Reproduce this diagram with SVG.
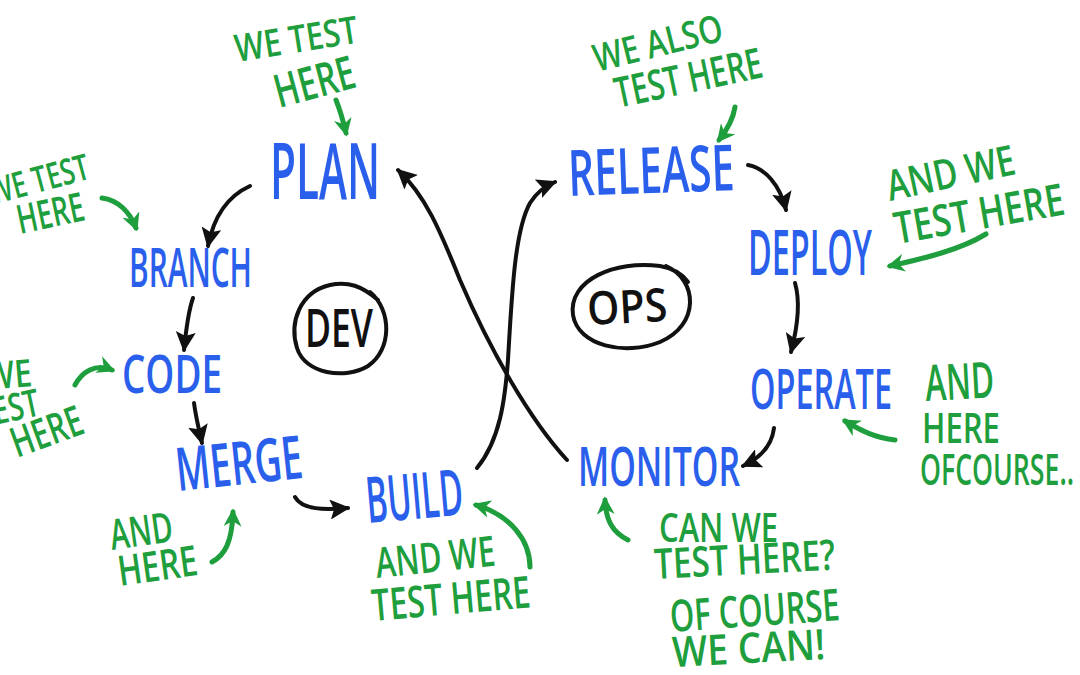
<svg xmlns="http://www.w3.org/2000/svg" width="1080" height="675" viewBox="0 0 1080 675">
<style>
.b{font-family:"Open Sans","Liberation Sans",sans-serif;fill:#2a5fec;font-weight:600}
.g{font-family:"Open Sans","Liberation Sans",sans-serif;fill:#1e9e3c;font-weight:600}
.k{font-family:"Open Sans","Liberation Sans",sans-serif;fill:#111;font-weight:600}
.c{fill:none;stroke:#111;stroke-width:4;stroke-linecap:round}
.ga{fill:none;stroke:#1e9e3c;stroke-width:5;stroke-linecap:round}
</style>
<defs>
<marker id="ab" viewBox="0 0 10 10" refX="9" refY="5" markerWidth="20" markerHeight="20" markerUnits="userSpaceOnUse" orient="auto"><path d="M0,0 L10,5 L0,10 L2,5 z" fill="#111"/></marker>
<marker id="ag" viewBox="0 0 10 10" refX="8" refY="5" markerWidth="18" markerHeight="18" markerUnits="userSpaceOnUse" orient="auto"><path d="M0,0 L10,5 L0,10 L3,5 z" fill="#1e9e3c"/></marker>
</defs>
<rect width="1080" height="675" fill="#fff"/>

<g id="connectors">
<path class="c" d="M250,186 C228,196 214,215 208,246" marker-end="url(#ab)"/>
<path class="c" d="M193,298 C188,312 186,330 184,350" marker-end="url(#ab)"/>
<path class="c" d="M194,403 C196,418 199,430 202,443" marker-end="url(#ab)"/>
<path class="c" d="M295,497 C302,510 325,510 348,508" marker-end="url(#ab)"/>
<path class="c" d="M477,468 C500,440 505,400 508,360 C512,290 515,230 530,203 C537,192 545,186 555,182" marker-end="url(#ab)"/>
<path class="c" d="M567,460 C530,420 490,350 460,280 C440,230 425,195 398,170" marker-end="url(#ab)"/>
<path class="c" d="M748,165 C765,168 780,185 786,210" marker-end="url(#ab)"/>
<path class="c" d="M795,283 C800,300 798,325 791,352" marker-end="url(#ab)"/>
<path class="c" d="M774,428 C772,445 760,458 743,466" marker-end="url(#ab)"/>
</g>

<g id="plan"><text class="b" x="270" y="199" font-size="78" textLength="110" lengthAdjust="spacingAndGlyphs">PLAN</text></g>
<g id="branch"><text class="b" x="129" y="287" font-size="54" textLength="123" lengthAdjust="spacingAndGlyphs">BRANCH</text></g>
<g id="code"><text class="b" x="122" y="393" font-size="52" textLength="100" lengthAdjust="spacingAndGlyphs">CODE</text></g>
<g id="merge"><text class="b" x="178" y="491" font-size="60" textLength="127" lengthAdjust="spacingAndGlyphs" transform="rotate(-6 178 491)">MERGE</text></g>
<g id="build"><text class="b" x="368" y="523" font-size="64" textLength="97" lengthAdjust="spacingAndGlyphs" transform="rotate(-5 368 523)">BUILD</text></g>
<g id="release"><text class="b" x="569" y="196" font-size="64" textLength="166" lengthAdjust="spacingAndGlyphs" transform="rotate(-2 569 196)">RELEASE</text></g>
<g id="deploy"><text class="b" x="748" y="275" font-size="64" textLength="124" lengthAdjust="spacingAndGlyphs">DEPLOY</text></g>
<g id="operate"><text class="b" x="750" y="409" font-size="56" textLength="142" lengthAdjust="spacingAndGlyphs">OPERATE</text></g>
<g id="monitor"><text class="b" x="578" y="486" font-size="54" textLength="162" lengthAdjust="spacingAndGlyphs">MONITOR</text></g>

<g id="dev">
<path d="M370,292 C392,310 392,350 368,366 C345,380 305,374 297,348 C289,322 300,292 330,285 C348,281 362,286 378,300" fill="none" stroke="#111" stroke-width="4" stroke-linecap="round"/>
<text class="k" x="339" y="347" font-size="52" text-anchor="middle" textLength="68" lengthAdjust="spacingAndGlyphs">DEV</text>
</g>
<g id="ops">
<path d="M666,266 C698,280 700,325 660,342 C625,356 578,346 573,315 C568,280 615,260 660,266 C672,268 682,274 688,282" fill="none" stroke="#111" stroke-width="4" stroke-linecap="round"/>
<text class="k" x="628" y="323" font-size="46" text-anchor="middle" textLength="80" lengthAdjust="spacingAndGlyphs" transform="rotate(-3 628 323)">OPS</text>
</g>

<g id="note-plan">
<text class="g" x="237" y="62" font-size="38" textLength="124" lengthAdjust="spacingAndGlyphs" transform="rotate(-9 237 62)">WE TEST</text>
<text class="g" x="279" y="108" font-size="46" textLength="82" lengthAdjust="spacingAndGlyphs" transform="rotate(-15 279 108)">HERE</text>
<path class="ga" d="M336,100 C340,110 343,120 346,133" marker-end="url(#ag)"/>
</g>
<g id="note-branch">
<text class="g" x="-8" y="205" font-size="36" textLength="103" lengthAdjust="spacingAndGlyphs" transform="rotate(-15 -8 205)">WE TEST</text>
<text class="g" x="20" y="234" font-size="40" textLength="68" lengthAdjust="spacingAndGlyphs" transform="rotate(-12 20 234)">HERE</text>
<path class="ga" d="M102,198 C118,200 130,212 136,228" marker-end="url(#ag)"/>
</g>
<g id="note-code">
<text class="g" x="-14" y="390" font-size="38" textLength="47" lengthAdjust="spacingAndGlyphs" transform="rotate(-5 -14 390)">WE</text>
<text class="g" x="-20" y="428" font-size="38" textLength="63" lengthAdjust="spacingAndGlyphs" transform="rotate(-12 -20 428)">TEST</text>
<text class="g" x="17" y="458" font-size="42" textLength="74" lengthAdjust="spacingAndGlyphs" transform="rotate(-20 17 458)">HERE</text>
<path class="ga" d="M75,385 C82,372 95,363 112,370" marker-end="url(#ag)"/>
</g>
<g id="note-merge">
<text class="g" x="112" y="550" font-size="42" textLength="63" lengthAdjust="spacingAndGlyphs" transform="rotate(-8 112 550)">AND</text>
<text class="g" x="120" y="586" font-size="42" textLength="80" lengthAdjust="spacingAndGlyphs" transform="rotate(-8 120 586)">HERE</text>
<path class="ga" d="M212,562 C225,555 232,542 233,512" marker-end="url(#ag)"/>
</g>
<g id="note-build">
<text class="g" x="377" y="578" font-size="42" textLength="120" lengthAdjust="spacingAndGlyphs" transform="rotate(-6 377 578)">AND WE</text>
<text class="g" x="373" y="621" font-size="44" textLength="159" lengthAdjust="spacingAndGlyphs" transform="rotate(-5 373 621)">TEST HERE</text>
<path class="ga" d="M530,567 C530,540 510,515 476,505" marker-end="url(#ag)"/>
</g>
<g id="note-release">
<text class="g" x="597" y="72" font-size="38" textLength="132" lengthAdjust="spacingAndGlyphs" transform="rotate(-14 597 72)">WE ALSO</text>
<text class="g" x="618" y="108" font-size="42" textLength="150" lengthAdjust="spacingAndGlyphs" transform="rotate(-12 618 108)">TEST HERE</text>
<path class="ga" d="M735,107 C733,120 727,130 719,140" marker-end="url(#ag)"/>
</g>
<g id="note-deploy">
<text class="g" x="890" y="201" font-size="42" textLength="130" lengthAdjust="spacingAndGlyphs" transform="rotate(-12 890 201)">AND WE</text>
<text class="g" x="897" y="244" font-size="44" textLength="172" lengthAdjust="spacingAndGlyphs" transform="rotate(-10 897 244)">TEST HERE</text>
<path class="ga" d="M986,234 C960,250 925,258 890,266" marker-end="url(#ag)"/>
</g>
<g id="note-operate">
<text class="g" x="926" y="401" font-size="50" textLength="69" lengthAdjust="spacingAndGlyphs" transform="rotate(-3 926 401)">AND</text>
<text class="g" x="922" y="443" font-size="42" textLength="78" lengthAdjust="spacingAndGlyphs">HERE</text>
<text class="g" x="920" y="485" font-size="44" textLength="154" lengthAdjust="spacingAndGlyphs">OFCOURSE..</text>
<path class="ga" d="M895,440 C875,438 860,430 845,421" marker-end="url(#ag)"/>
</g>
<g id="note-monitor">
<text class="g" x="659" y="542" font-size="40" textLength="119" lengthAdjust="spacingAndGlyphs">CAN WE</text>
<text class="g" x="655" y="579" font-size="42" textLength="181" lengthAdjust="spacingAndGlyphs" transform="rotate(-3 655 579)">TEST HERE?</text>
<text class="g" x="671" y="632" font-size="44" textLength="170" lengthAdjust="spacingAndGlyphs" transform="rotate(-4 671 632)">OF COURSE</text>
<text class="g" x="673" y="667" font-size="42" textLength="153" lengthAdjust="spacingAndGlyphs" transform="rotate(-3 673 667)">WE CAN!</text>
<path class="ga" d="M628,540 C612,532 606,520 605,500" marker-end="url(#ag)"/>
</g>
</svg>
